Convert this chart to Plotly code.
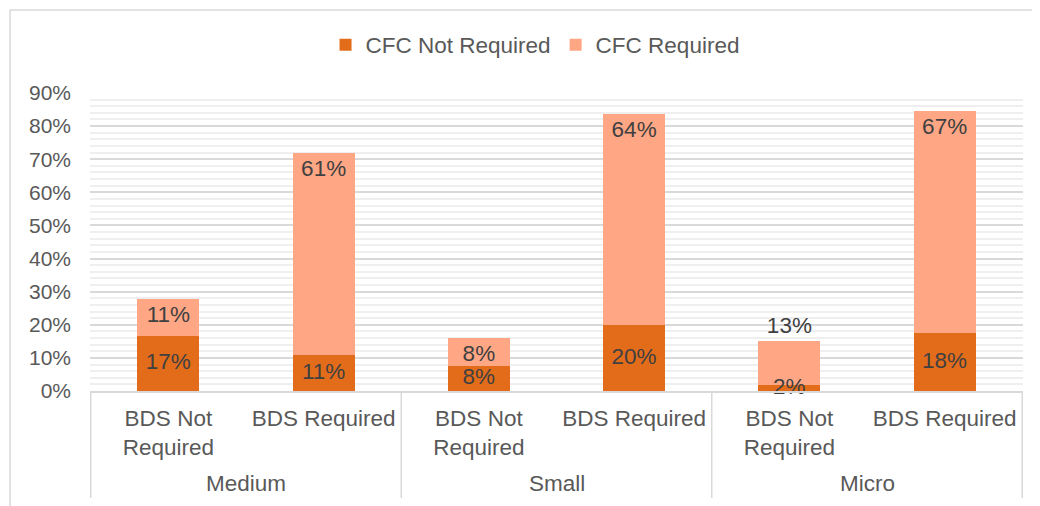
import plotly.graph_objects as go

groups = ["Medium", "Medium", "Small", "Small", "Micro", "Micro"]
bds = ["BDS Not<br>Required", "BDS Required", "BDS Not<br>Required", "BDS Required", "BDS Not<br>Required", "BDS Required"]
cfc_not_required = [0.167, 0.109, 0.076, 0.199, 0.018, 0.175]
cfc_required = [0.112, 0.610, 0.084, 0.638, 0.133, 0.670]
y_ticks = [0, 0.1, 0.2, 0.3, 0.4, 0.5, 0.6, 0.7, 0.8, 0.9]

FONT = "Liberation Sans, Arial, sans-serif"
TXT = "#595959"
LBL = "#404040"
GRID = "#D9D9D9"

keys = [f"{g} | {b}" for g, b in zip(groups, bds)]
group_names = list(dict.fromkeys(groups))
per_group = len(keys) // len(group_names)

fig = go.Figure()
fig.add_trace(go.Bar(
    x=keys, y=cfc_not_required, name="CFC Not Required",
    marker=dict(color="#E36C1B", line=dict(width=0)),
    textposition="none",
))
fig.add_trace(go.Bar(
    x=keys, y=cfc_required, name="CFC Required",
    marker=dict(color="#FFA685", line=dict(width=0)),
    texttemplate="%{y:.0%}",
    textposition=["inside", "inside", "inside", "inside", "outside", "inside"],
    insidetextanchor="end", textangle=0, constraintext="none", cliponaxis=False,
    textfont=dict(family=FONT, size=22.5, color=LBL),
))
# labels of the lower series drawn on top of everything
fig.add_trace(go.Scatter(
    x=keys, y=[v / 2 for v in cfc_not_required],
    mode="text", text=[f"{round(v * 100)}%" for v in cfc_not_required],
    textposition="middle center", showlegend=False, hoverinfo="skip",
    textfont=dict(family=FONT, size=22.5, color=LBL), cliponaxis=False,
))

# group dividers and group labels below the category labels
shapes = [dict(type="rect", xref="paper", yref="paper",
               x0=-0.0857, x1=1.1, y0=-0.6, y1=1.2785,
               line=dict(color=GRID, width=1.5), layer="below")]
for i in range(len(group_names) + 1):
    xb = i * per_group - 0.5
    shapes.append(dict(type="line", xref="x", yref="paper", x0=xb, x1=xb,
                       y0=-0.359, y1=0, line=dict(color=GRID, width=1.5)))
annotations = []
for i, g in enumerate(group_names):
    annotations.append(dict(text=g, xref="x", yref="paper",
                            x=i * per_group + (per_group - 1) / 2, y=-0.312,
                            xanchor="center", yanchor="middle", showarrow=False,
                            font=dict(family=FONT, size=22.5, color=TXT)))

fig.update_layout(
    width=1032, height=498,
    barmode="stack", bargap=0.6,
    paper_bgcolor="white", plot_bgcolor="white",
    margin=dict(l=82, r=17, t=85, b=115),
    font=dict(family=FONT, size=22.5, color=TXT),
    uniformtext=dict(minsize=22, mode="show"),
    legend=dict(orientation="h", x=0.477, xanchor="center", y=1.161, yanchor="middle",
                font=dict(size=22.5, color=TXT), traceorder="normal"),
    shapes=shapes, annotations=annotations,
)
fig.update_yaxes(
    range=[0, 0.9], tickvals=y_ticks, tickformat=".0%",
    showgrid=True, gridcolor=GRID, gridwidth=1.5,
    minor=dict(dtick=0.02, showgrid=True, gridcolor="#EFEFEF", gridwidth=1.5),
    zeroline=False, showline=False, ticks="", ticklabelstandoff=18,
    tickfont=dict(size=21, color=TXT),
)
fig.update_xaxes(
    type="category", tickvals=keys, ticktext=bds,
    showline=True, linecolor=GRID, linewidth=1.5,
    tickfont=dict(size=22.5, color=TXT), ticks="", ticklabelstandoff=6,
)
fig.write_html("out.html")
